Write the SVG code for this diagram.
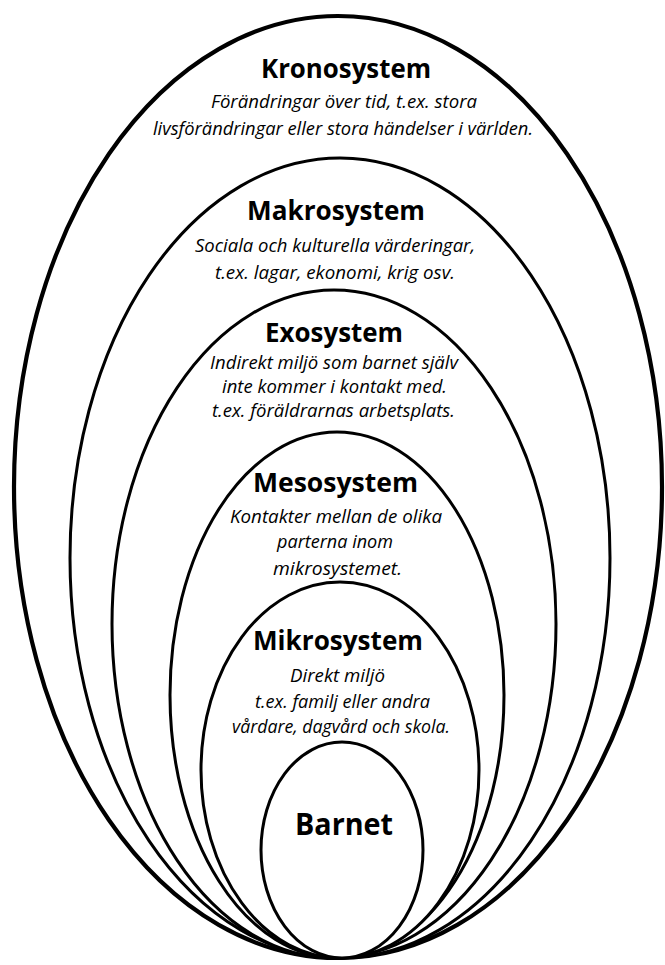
<svg xmlns="http://www.w3.org/2000/svg" width="665" height="965" viewBox="0 0 665 965">
<style>
.sh{fill:#fff;stroke:#000;stroke-width:3}
.outer{stroke-width:4.2}
.t{font-family:"Open Sans","Noto Sans","Liberation Sans",sans-serif;font-weight:700;font-size:26px;text-anchor:middle;fill:#000}
.d{font-family:"Open Sans","Noto Sans","Liberation Sans",sans-serif;font-style:italic;font-size:17.5px;text-anchor:middle;fill:#000}
</style>
<rect width="665" height="965" fill="#fff"/>
<g id="kronosystem">
<ellipse class="sh outer" cx="338" cy="487" rx="324" ry="471"/>
<text class="t" x="346" y="78" textLength="170" lengthAdjust="spacingAndGlyphs">Kronosystem</text>
<text class="d" x="344" y="108" textLength="266" lengthAdjust="spacingAndGlyphs">Förändringar över tid, t.ex. stora</text>
<text class="d" x="343" y="135" textLength="380" lengthAdjust="spacingAndGlyphs">livsförändringar eller stora händelser i världen.</text>
</g>
<g id="makrosystem">
<ellipse class="sh" cx="340" cy="558" rx="270" ry="400"/>
<text class="t" x="336" y="220" textLength="178" lengthAdjust="spacingAndGlyphs">Makrosystem</text>
<text class="d" x="335" y="252" textLength="280" lengthAdjust="spacingAndGlyphs">Sociala och kulturella värderingar,</text>
<text class="d" x="335" y="279" textLength="240" lengthAdjust="spacingAndGlyphs">t.ex. lagar, ekonomi, krig osv.</text>
</g>
<g id="exosystem">
<ellipse class="sh" cx="334" cy="624" rx="222" ry="334"/>
<text class="t" x="334" y="342" textLength="138" lengthAdjust="spacingAndGlyphs">Exosystem</text>
<text class="d" x="334" y="369" textLength="248" lengthAdjust="spacingAndGlyphs">Indirekt miljö som barnet själv</text>
<text class="d" x="334.5" y="393" textLength="225" lengthAdjust="spacingAndGlyphs">inte kommer i kontakt med.</text>
<text class="d" x="333.5" y="417" textLength="243" lengthAdjust="spacingAndGlyphs">t.ex. föräldrarnas arbetsplats.</text>
</g>
<g id="mesosystem">
<ellipse class="sh" cx="337" cy="695" rx="167" ry="263"/>
<text class="t" x="335.5" y="492" textLength="165" lengthAdjust="spacingAndGlyphs">Mesosystem</text>
<text class="d" x="336" y="523" textLength="212" lengthAdjust="spacingAndGlyphs">Kontakter mellan de olika</text>
<text class="d" x="335" y="548" textLength="116" lengthAdjust="spacingAndGlyphs">parterna inom</text>
<text class="d" x="337.5" y="575" textLength="129" lengthAdjust="spacingAndGlyphs">mikrosystemet.</text>
</g>
<g id="mikrosystem">
<ellipse class="sh" cx="340" cy="770" rx="139" ry="188"/>
<text class="t" x="338" y="650" textLength="170" lengthAdjust="spacingAndGlyphs">Mikrosystem</text>
<text class="d" x="337.5" y="682" textLength="95" lengthAdjust="spacingAndGlyphs">Direkt miljö</text>
<text class="d" x="342.5" y="708" textLength="175" lengthAdjust="spacingAndGlyphs">t.ex. familj eller andra</text>
<text class="d" x="341" y="733" textLength="218" lengthAdjust="spacingAndGlyphs">vårdare, dagvård och skola.</text>
</g>
<g id="barnet">
<ellipse class="sh" cx="342" cy="850" rx="81" ry="108"/>
<text class="t" x="344" y="835" style="font-size:30px" textLength="98" lengthAdjust="spacingAndGlyphs">Barnet</text>
</g>
</svg>
